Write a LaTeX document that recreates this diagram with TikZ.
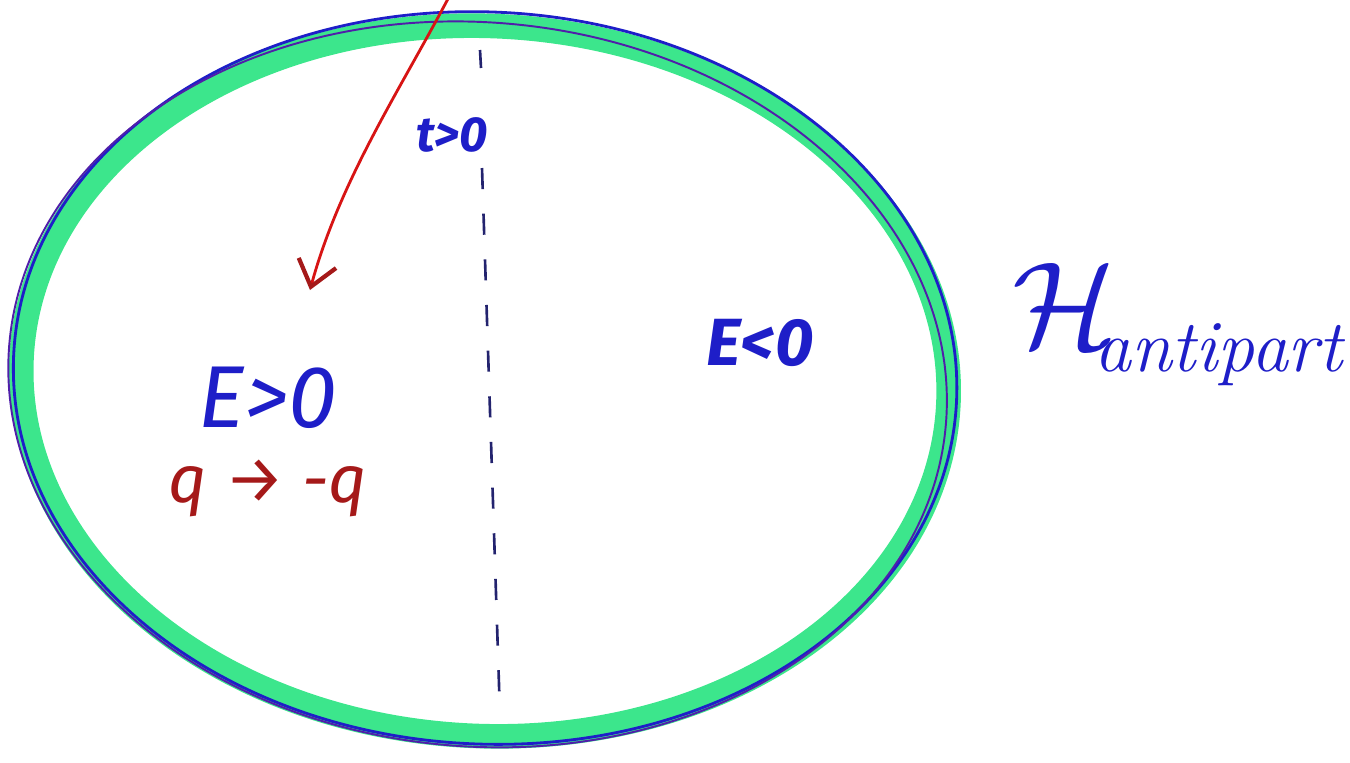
\documentclass[tikz,border=0pt]{standalone}
\usepackage{fontspec}
\setsansfont{Fira Sans}
\usetikzlibrary{arrows.meta}
\definecolor{mkgreen}{RGB}{60,230,140}
\definecolor{mkblue}{RGB}{30,30,200}
\definecolor{mkpurple}{RGB}{80,30,170}
\definecolor{mknavy}{RGB}{35,35,110}
\definecolor{mkred}{RGB}{215,20,20}
\definecolor{mkdred}{RGB}{165,25,25}
\tikzset{
  greenring/.style={draw=mkgreen, line width=14pt},
  bluering/.style={draw=mkblue, line width=1.6pt},
  purplering/.style={draw=mkpurple, line width=1.1pt},
  divider/.style={draw=mknavy, line width=1.5pt, dash pattern=on 12pt off 14pt},
  redarrow/.style={draw=mkred, line width=1.6pt, -{Straight Barb[length=14pt,width=22pt,line width=2.4pt,color=mkdred]}},
  bluetxt/.style={text=mkblue, font=\sffamily\itshape\bfseries},
  redtxt/.style={text=mkdred, font=\sffamily\itshape},
}
\begin{document}
\begin{tikzpicture}[x=0.02cm,y=-0.02cm]
\useasboundingbox (0,0) rectangle (1350,762);
% rings
\draw[greenring, rotate around={-3:(485,380)}] (485,381) ellipse [x radius=464, y radius=355];
\draw[bluering, rotate around={-3:(485,380)}] (485,378) ellipse [x radius=472, y radius=366];
\draw[purplering, rotate around={-5:(485,380)}] (478,385) ellipse [x radius=470, y radius=362];
% divider
\coordinate (dtop) at (480,50);
\coordinate (dtopend) at (481,68);
\coordinate (dmid) at (482,168);
\coordinate (dbot) at (500,715);
\draw[divider] (dtop) -- (dtopend);
\draw[divider] (dmid) -- (dbot);
% red arrow
\coordinate (astart) at (450,-5);
\coordinate (aend) at (310,290);
\draw[redarrow] (astart) .. controls (400,90) and (340,180) .. (aend);
% labels
\node[bluetxt, font=\sffamily\itshape\bfseries\fontsize{28}{32}\selectfont] (tpos) at (452,135) {t>0};
\node[bluetxt, font=\sffamily\itshape\fontsize{50}{56}\selectfont] (epos) at (268,398) {E>0};
\node[redtxt, font=\sffamily\itshape\fontsize{38}{44}\selectfont] (qflip) at (268,488) {q → -q};
\node[bluetxt, font=\sffamily\itshape\bfseries\fontsize{38}{44}\selectfont] (eneg) at (760,343) {E<0};
\node[text=mkblue, anchor=center, scale=7] (ham) at (1065,305) {$\mathcal{H}$};
\node[text=mkblue, anchor=west, font=\itshape\fontsize{42}{46}\selectfont] (sub) at (1088,355) {antipart};
\end{tikzpicture}
\end{document}
